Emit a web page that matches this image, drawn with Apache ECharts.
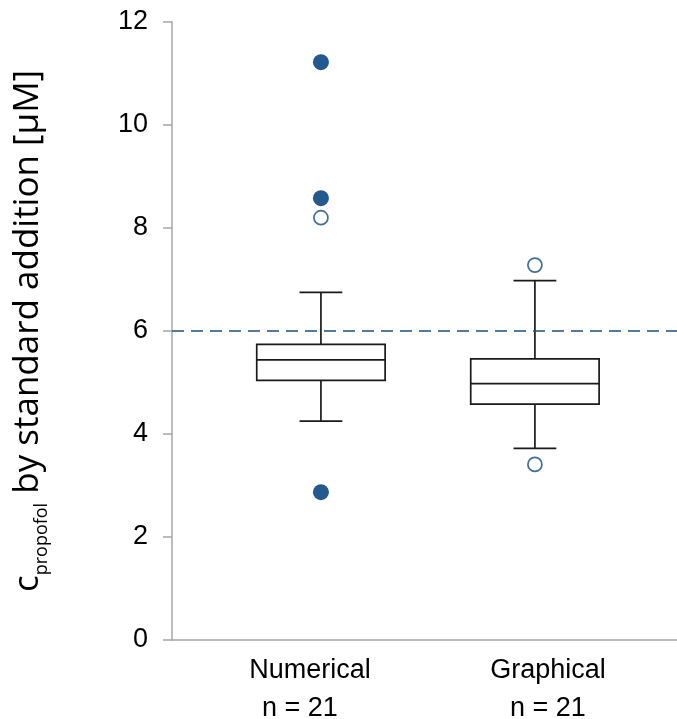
<!DOCTYPE html>
<html>
<head>
<meta charset="utf-8">
<script src="https://cdn.jsdelivr.net/npm/echarts@6/dist/echarts.min.js"></script>
<style>
  html, body { margin: 0; padding: 0; background: #fff; }
  #chart { width: 677px; height: 719px; }
</style>
</head>
<body>
<div id="chart"></div>
<script>
// group positions on the x axis and their labels
const groups = [1, 2];
const groupNames = ['Numerical', 'Graphical'];
const groupCounts = ['n = 21', 'n = 21'];

// box stats: [low whisker, Q1, median, Q3, high whisker]
const numericalBox = [4.25, 5.04, 5.44, 5.74, 6.75];
const graphicalBox = [3.72, 4.58, 4.98, 5.46, 6.98];

// outliers as [group, value]
const filledOutliers = [[1, 11.22], [1, 8.58], [1, 2.87]];
const openOutliers = [[1, 8.2], [2, 7.28], [2, 3.41]];

const referenceLine = 6;
const yTicks = [0, 2, 4, 6, 8, 10, 12];

const boxData = [
  [groups[0], ...numericalBox],
  [groups[1], ...graphicalBox],
];

const axisGrey = '#a6a6a6';
const blue = '#23598f';
const labelFont = 'Liberation Sans, Arial, sans-serif';

const chart = echarts.init(document.getElementById('chart'));

function renderBox(params, api) {
  const x = api.value(0);
  const halfBox = 0.3;
  const halfCap = 0.1;
  const p = (dx, v) => api.coord([x + dx, v]);
  const low = api.value(1), q1 = api.value(2), med = api.value(3), q3 = api.value(4), high = api.value(5);
  const lineStyle = { stroke: '#1a1a1a', lineWidth: 1.7, fill: null };
  const tl = p(-halfBox, q3), br = p(halfBox, q1);
  const seg = (a, b) => ({ type: 'line', shape: { x1: a[0], y1: a[1], x2: b[0], y2: b[1] }, style: lineStyle });
  return {
    type: 'group',
    children: [
      { type: 'rect', shape: { x: tl[0], y: tl[1], width: br[0] - tl[0], height: br[1] - tl[1] }, style: { stroke: '#1a1a1a', lineWidth: 1.7, fill: '#fff' } },
      seg(p(-halfBox, med), p(halfBox, med)),
      seg(p(0, q3), p(0, high)),
      seg(p(0, q1), p(0, low)),
      seg(p(-halfCap, high), p(halfCap, high)),
      seg(p(-halfCap, low), p(halfCap, low)),
    ],
  };
}

chart.setOption({
  animation: false,
  backgroundColor: '#fff',
  grid: { left: 172, right: 0, top: 22, bottom: 79, outerBoundsMode: 'none' },
  xAxis: {
    type: 'value',
    min: 0.304,
    max: 2.664,
    splitLine: { show: false },
    axisLine: { show: true, onZero: false, lineStyle: { color: axisGrey, width: 1.5 } },
    axisTick: { show: false },
    axisLabel: {
      customValues: groups,
      formatter: (v) => {
        const i = groups.indexOf(v);
        if (i === 0) return '{a|' + groupNames[i] + '}\n{b|' + groupCounts[i] + '}';
        return '{c|' + groupNames[i] + '}\n{c|' + groupCounts[i] + '}';
      },
      margin: 12,
      rich: {
        a: { color: '#000', fontFamily: labelFont, fontSize: 27, lineHeight: 38, padding: [0, 22, 0, 0] },
        b: { color: '#000', fontFamily: labelFont, fontSize: 27, lineHeight: 38, padding: [0, 42, 0, 0] },
        c: { color: '#000', fontFamily: labelFont, fontSize: 27, lineHeight: 38, padding: [0, 0, 0, 26] },
      },
    },
  },
  yAxis: {
    type: 'value',
    min: yTicks[0],
    max: yTicks[yTicks.length - 1],
    interval: 2,
    splitLine: { show: false },
    axisLine: { show: true, lineStyle: { color: axisGrey, width: 1.5 } },
    axisTick: { show: true, length: 9, lineStyle: { color: axisGrey, width: 1.5 } },
    axisLabel: {
      color: '#000',
      fontFamily: labelFont,
      fontSize: 27,
      margin: 24,
    },
    name: '{m|c}{s|propofol}{m| by standard addition [µM]}',
    nameLocation: 'middle',
    nameRotate: 90,
    nameGap: 120,
    nameTextStyle: {
      rich: {
        m: { fontFamily: 'Open Sans', fontSize: 35, color: '#000', lineHeight: 48 },
        s: { fontFamily: 'Open Sans', fontSize: 18, color: '#000', height: 20, verticalAlign: 'bottom' },
      },
    },
  },
  series: [
    {
      type: 'custom',
      renderItem: renderBox,
      data: boxData,
      encode: { x: 0, y: [1, 2, 3, 4, 5] },
      z: 3,
      markLine: {
        silent: true,
        symbol: 'none',
        label: { show: false },
        lineStyle: { color: '#1f4f7f', type: [12, 7], width: 1.6 },
        data: [{ yAxis: referenceLine }],
      },
    },
    {
      type: 'scatter',
      data: filledOutliers,
      symbolSize: 16,
      itemStyle: { color: blue, opacity: 1 },
      z: 4,
    },
    {
      type: 'scatter',
      data: openOutliers,
      symbolSize: 14,
      itemStyle: { color: '#fff', borderColor: '#3f6e9c', borderWidth: 1.7, opacity: 1 },
      z: 4,
    },
  ],
});
</script>
</body>
</html>
